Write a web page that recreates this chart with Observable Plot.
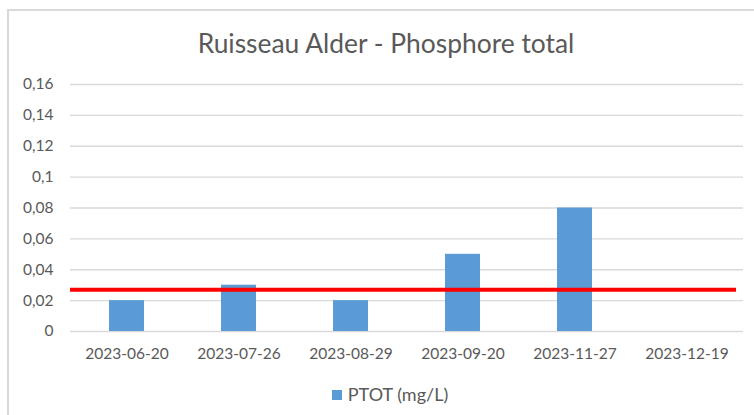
<!DOCTYPE html>
<html>
<head>
<meta charset="utf-8">
<script src="https://cdn.jsdelivr.net/npm/d3@7"></script>
<script src="https://cdn.jsdelivr.net/npm/@observablehq/plot@0.6"></script>
<style>
  html, body { margin: 0; padding: 0; background: #fff; }
  #wrap { position: relative; width: 754px; height: 415px; overflow: hidden; font-family: Lato, "Open Sans", sans-serif; }
  #frame { position: absolute; left: 7px; top: 9px; width: 800px; height: 500px; border-left: 2px solid #D9D9D9; border-top: 2px solid #D9D9D9; }
  #title { position: absolute; left: 9px; width: 754px; top: 28px; text-align: center; font-size: 26.4px; line-height: 30px; color: #595959; }
  #chart { position: absolute; left: 0; top: 60px; }
  #legend { position: absolute; left: 13px; width: 754px; top: 383px; text-align: center; font-size: 18px; line-height: 22px; color: #595959; }
  #legend .sw { display: inline-block; width: 10px; height: 10px; background: #5B9BD5; margin-right: 6px; vertical-align: 1px; }
</style>
</head>
<body>
<div id="wrap">
  <div id="frame"></div>
  <div id="title">Ruisseau Alder - Phosphore total</div>
  <div id="chart"></div>
  <div id="legend"><span class="sw"></span>PTOT (mg/L)</div>
</div>
<script>
const dates = ["2023-06-20", "2023-07-26", "2023-08-29", "2023-09-20", "2023-11-27", "2023-12-19"];
const ptot = [0.02, 0.03, 0.02, 0.05, 0.08, null];
const threshold = 0.027;
const yTicks = [0, 0.02, 0.04, 0.06, 0.08, 0.1, 0.12, 0.14, 0.16];

const data = dates.map((d, i) => ({date: d, value: ptot[i]}));
const fmt = v => String(v).replace(".", ",");

const chart = Plot.plot({
  width: 754,
  height: 320,
  marginTop: 24,
  marginBottom: 49,
  marginLeft: 70,
  marginRight: 11,
  style: {fontFamily: "Lato, 'Open Sans', sans-serif", fontSize: "16px", color: "#595959", background: "transparent", overflow: "visible"},
  x: {domain: dates, paddingInner: 0.69, paddingOuter: 0.345, label: null},
  y: {domain: [0, 0.16], label: null},
  marks: [
    Plot.gridY(yTicks, {stroke: "#D9D9D9", strokeOpacity: 1, strokeWidth: 1.3}),
    Plot.barY(data.filter(d => d.value != null), {x: "date", y: "value", fill: "#5B9BD5"}),
    Plot.ruleY([threshold], {stroke: "#FF0000", strokeWidth: 4, insetRight: 7}),
    Plot.axisY(yTicks, {tickSize: 0, tickPadding: 17, tickFormat: fmt, label: null, fill: "#595959", fontSize: 15.5}),
    Plot.axisX({tickSize: 0, tickPadding: 16, label: null, fill: "#595959", fontSize: 15.5})
  ]
});
document.getElementById("chart").appendChild(chart);
</script>
</body>
</html>
